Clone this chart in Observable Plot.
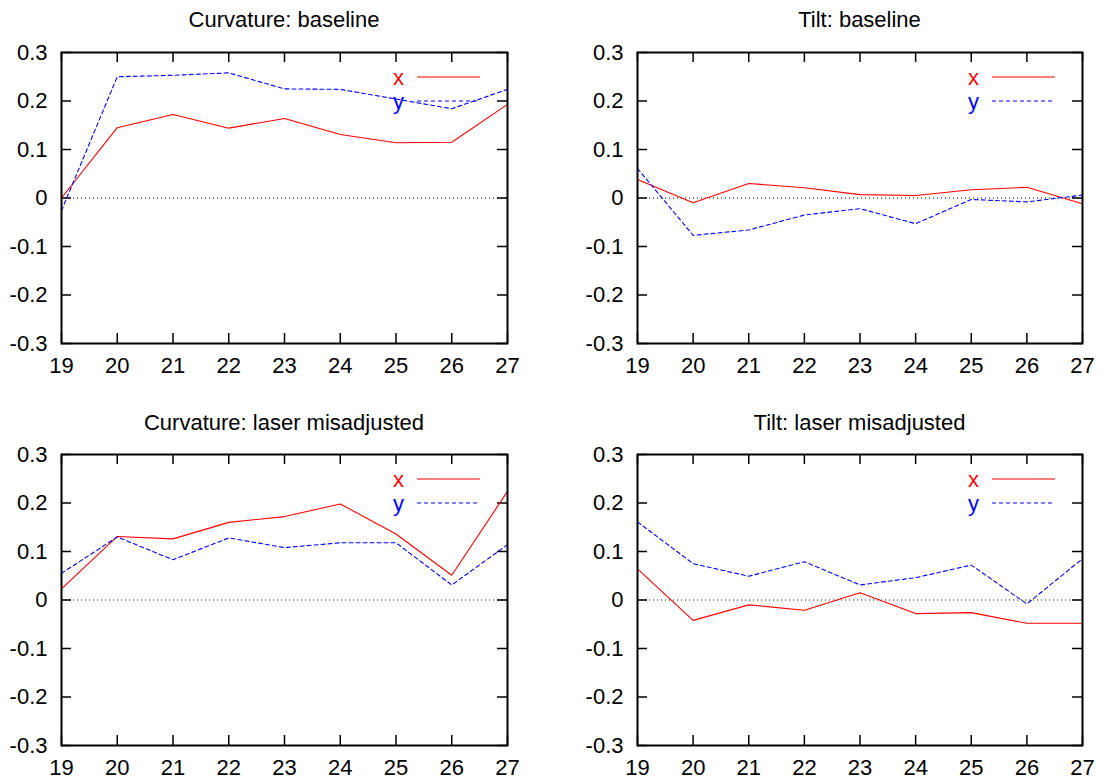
<!DOCTYPE html>
<html>
<head>
<meta charset="utf-8">
<script src="https://cdn.jsdelivr.net/npm/d3@7"></script>
<script src="https://cdn.jsdelivr.net/npm/@observablehq/plot@0.6"></script>
<style>
  html, body { margin: 0; padding: 0; background: #fff; }
  #root { position: relative; width: 1099px; height: 783px; overflow: hidden; font-family: "Liberation Sans", Arial, sans-serif; }
  .panel { position: absolute; }
  .title { position: absolute; font-size: 22px; line-height: 22px; color: #000; text-align: center; white-space: nowrap; }
</style>
</head>
<body>
<div id="root"></div>
<script>
// ---- data ----
const days = [19, 20, 21, 22, 23, 24, 25, 26, 27];
const yTicks = [-0.3, -0.2, -0.1, 0, 0.1, 0.2, 0.3];
const seriesNames = ["x", "y"];
const titles = ["Curvature: baseline", "Tilt: baseline", "Curvature: laser misadjusted", "Tilt: laser misadjusted"];

const curvBaseX  = [0.000, 0.145, 0.172, 0.144, 0.164, 0.131, 0.114, 0.115, 0.193];
const curvBaseY  = [-0.026, 0.250, 0.253, 0.258, 0.225, 0.224, 0.204, 0.184, 0.224];
const tiltBaseX  = [0.038, -0.010, 0.030, 0.021, 0.007, 0.005, 0.017, 0.022, -0.012];
const tiltBaseY  = [0.061, -0.077, -0.066, -0.035, -0.022, -0.053, -0.003, -0.008, 0.006];
const curvLaserX = [0.023, 0.131, 0.126, 0.160, 0.172, 0.198, 0.136, 0.051, 0.224];
const curvLaserY = [0.055, 0.130, 0.083, 0.128, 0.108, 0.118, 0.118, 0.031, 0.114];
const tiltLaserX = [0.064, -0.042, -0.010, -0.021, 0.015, -0.028, -0.026, -0.048, -0.048];
const tiltLaserY = [0.161, 0.075, 0.049, 0.079, 0.031, 0.046, 0.072, -0.008, 0.085];

const panels = [
  {title: titles[0], xs: curvBaseX,  ys: curvBaseY,  left: 0,   top: 40,  width: 550, mr: 43, titleTop: 9},
  {title: titles[1], xs: tiltBaseX,  ys: tiltBaseY,  left: 576, top: 40,  width: 523, mr: 17, titleTop: 9},
  {title: titles[2], xs: curvLaserX, ys: curvLaserY, left: 0,   top: 442, width: 550, mr: 43, titleTop: 412},
  {title: titles[3], xs: tiltLaserX, ys: tiltLaserY, left: 576, top: 442, width: 523, mr: 17, titleTop: 412}
];

const RED = "#ff0000", BLUE = "#0000ff";
const DASH = "4,3";
const ML = 61, MT = 12, MB = 38, H = 341;
const FH = H - MT - MB;
const fmt = d => String(+(+d).toFixed(1));
const root = document.getElementById("root");

for (const p of panels) {
  const FW = p.width - ML - p.mr;
  const rows = (vals) => days.map((d, i) => ({day: d, v: vals[i]}));
  const plot = Plot.plot({
    width: p.width, height: H,
    marginLeft: ML, marginRight: p.mr, marginTop: MT, marginBottom: MB,
    style: {fontFamily: "'Liberation Sans', Arial, sans-serif", fontSize: "22px", color: "#000", background: "#fff", overflow: "visible"},
    x: {domain: [19, 27]},
    y: {domain: [-0.3, 0.3]},
    marks: [
      Plot.axisX(days, {tickSize: 0, tickPadding: 14, tickFormat: d => String(d), fontSize: 22, fill: "#000", label: null}),
      Plot.axisY(yTicks, {tickSize: 0, tickPadding: 14, tickFormat: fmt, fontSize: 22, fill: "#000", label: null}),
      Plot.ruleY([0], {stroke: "#000", strokeWidth: 1, strokeDasharray: "1,3"}),
      Plot.ruleX(days, {stroke: "#000", strokeWidth: 1.5, insetBottom: FH - 10}),
      Plot.ruleX(days, {stroke: "#000", strokeWidth: 1.5, insetTop: FH - 10}),
      Plot.ruleY(yTicks, {stroke: "#000", strokeWidth: 1.5, insetRight: FW - 10}),
      Plot.ruleY(yTicks, {stroke: "#000", strokeWidth: 1.5, insetLeft: FW - 10}),
      Plot.line(rows(p.xs), {x: "day", y: "v", stroke: RED, strokeWidth: 1.1}),
      Plot.line(rows(p.ys), {x: "day", y: "v", stroke: BLUE, strokeWidth: 1.1, strokeDasharray: DASH}),
      Plot.frame({stroke: "#000", strokeWidth: 2})
    ]
  });
  // legend (gnuplot-style, inside top-right of the frame)
  const xr = plot.scale("x").range, yr = plot.scale("y").range;
  const right = Math.max(...xr), top = Math.min(...yr);
  const svg = d3.select(plot);
  const leg = svg.append("g").attr("font-family", "'Liberation Sans', Arial, sans-serif").attr("font-size", 22);
  const entries = [{name: seriesNames[0], color: RED, dash: null, dy: 25}, {name: seriesNames[1], color: BLUE, dash: DASH, dy: 49}];
  for (const e of entries) {
    leg.append("text").attr("x", right - 103).attr("y", top + e.dy + 7.5)
      .attr("text-anchor", "end").attr("fill", e.color).text(e.name);
    const ln = leg.append("line").attr("x1", right - 90).attr("x2", right - 27)
      .attr("y1", top + e.dy).attr("y2", top + e.dy)
      .attr("stroke", e.color).attr("stroke-width", 1.1);
    if (e.dash) ln.attr("stroke-dasharray", e.dash);
  }
  const wrap = document.createElement("div");
  wrap.className = "panel";
  wrap.style.left = p.left + "px";
  wrap.style.top = p.top + "px";
  wrap.appendChild(plot);
  root.appendChild(wrap);

  const t = document.createElement("div");
  t.className = "title";
  t.textContent = p.title;
  t.style.left = (p.left + ML) + "px";
  t.style.width = FW + "px";
  t.style.top = p.titleTop + "px";
  root.appendChild(t);
}
</script>
</body>
</html>
